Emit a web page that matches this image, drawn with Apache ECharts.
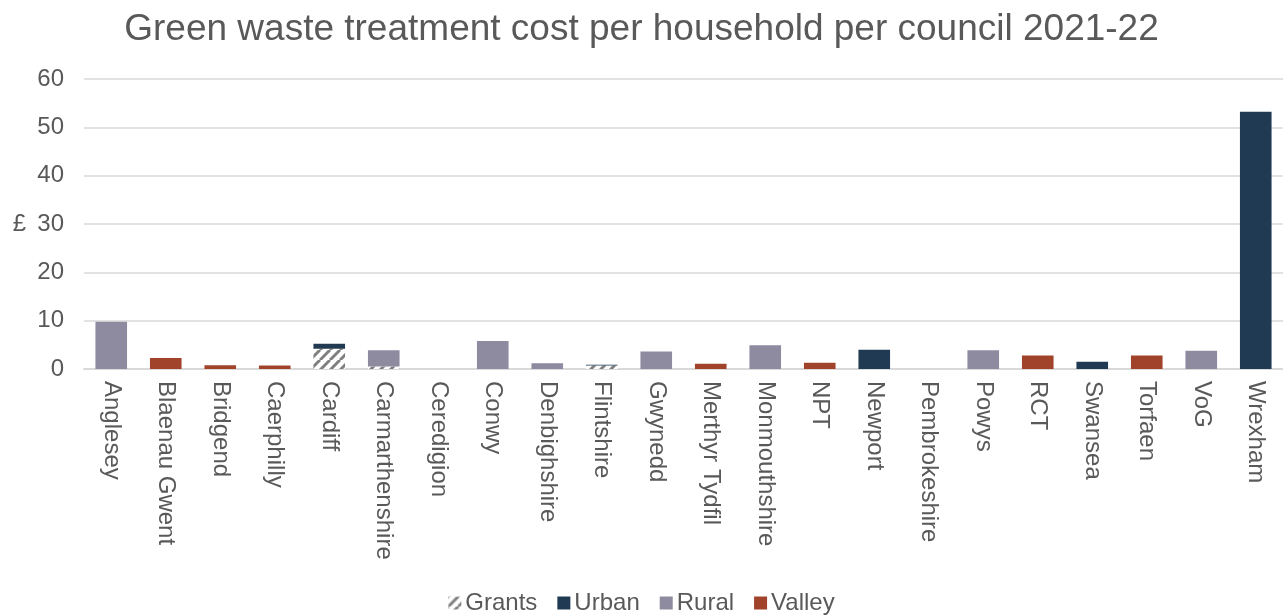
<!DOCTYPE html>
<html><head><meta charset="utf-8">
<script src="https://cdn.jsdelivr.net/npm/echarts@6/dist/echarts.min.js"></script>
<style>html,body{margin:0;padding:0;background:#fff}#c{width:1283px;height:615px}</style>
</head><body><div id="c"></div>
<script>
const categories = ["Anglesey","Blaenau Gwent","Bridgend","Caerphilly","Cardiff","Carmarthenshire","Ceredigion","Conwy","Denbighshire","Flintshire","Gwynedd","Merthyr Tydfil","Monmouthshire","NPT","Newport","Pembrokeshire","Powys","RCT","Swansea","Torfaen","VoG","Wrexham"];
const grants = [0,0,0,0,4.2,0.5,0,0,0,0.7,0,0,0,0,0,0,0,0,0,0,0,0];
const urban  = [0,0,0,0,1.0,0,0,0,0,0.2,0,0,0,0,4.0,0,0,0,1.5,0,0,53.2];
const rural  = [9.8,0,0,0,0,3.4,0,5.8,1.2,0,3.6,0,4.9,0,0,0,3.9,0,0,0,3.8,0];
const valley = [0,2.3,0.8,0.7,0,0,0,0,0,0,0,1.1,0,1.3,0,0,0,2.8,0,2.8,0,0];
const yTicks = [0,10,20,30,40,50,60];

const pc = document.createElement('canvas');
pc.width = 10; pc.height = 10;
const ctx = pc.getContext('2d');
ctx.fillStyle = '#ffffff'; ctx.fillRect(0,0,10,10);
ctx.strokeStyle = '#7f7f7f'; ctx.lineWidth = 3;
for (let k = -10; k <= 20; k += 10) {
  ctx.beginPath(); ctx.moveTo(k, 10); ctx.lineTo(k + 10, 0); ctx.stroke();
}
const pattern = {image: pc, repeat: 'repeat'};

const chart = echarts.init(document.getElementById('c'), null, {renderer: 'canvas'});
const font = 'Liberation Sans, Arial, sans-serif';
function s(name, data, color) {
  return {name, type: 'bar', stack: 'a', data, barCategoryGap: '42%', itemStyle: {color}, emphasis: {disabled: true}};
}
chart.setOption({
  animation: false,
  textStyle: {fontFamily: font},
  title: {text: 'Green waste treatment cost per household per council 2021-22', left: 'center', top: 6,
    textStyle: {fontFamily: font, fontSize: 37, fontWeight: 'normal', color: '#595959'}},
  legend: {top: 586, left: 'center', itemWidth: 13, itemHeight: 13, itemGap: 20,
    icon: 'rect',
    textStyle: {fontFamily: font, fontSize: 24, color: '#595959', padding: [0,0,0,-1]},
    data: ['Grants','Urban','Rural','Valley']},
  grid: {left: 84, right: 0, top: 79, bottom: 246},
  xAxis: {type: 'category', data: categories,
    axisLine: {lineStyle: {color: '#d9d9d9', width: 2}},
    axisTick: {show: false},
    axisLabel: {rotate: -90, interval: 0, fontSize: 24, color: '#595959', margin: 12, fontFamily: font}},
  yAxis: {type: 'value', min: yTicks[0], max: yTicks[yTicks.length-1], interval: 10,
    name: '£', nameLocation: 'middle', nameRotate: 0, nameGap: 58,
    nameTextStyle: {fontSize: 24, color: '#595959', fontFamily: font},
    axisLine: {show: false}, axisTick: {show: false},
    axisLabel: {fontSize: 24, color: '#595959', margin: 20, fontFamily: font},
    splitLine: {lineStyle: {color: '#d9d9d9', width: 1.5}}},
  series: [
    s('Grants', grants, pattern),
    s('Urban', urban, '#1f3a52'),
    s('Rural', rural, '#8e8aa0'),
    s('Valley', valley, '#a0432a')
  ]
});
</script></body></html>
